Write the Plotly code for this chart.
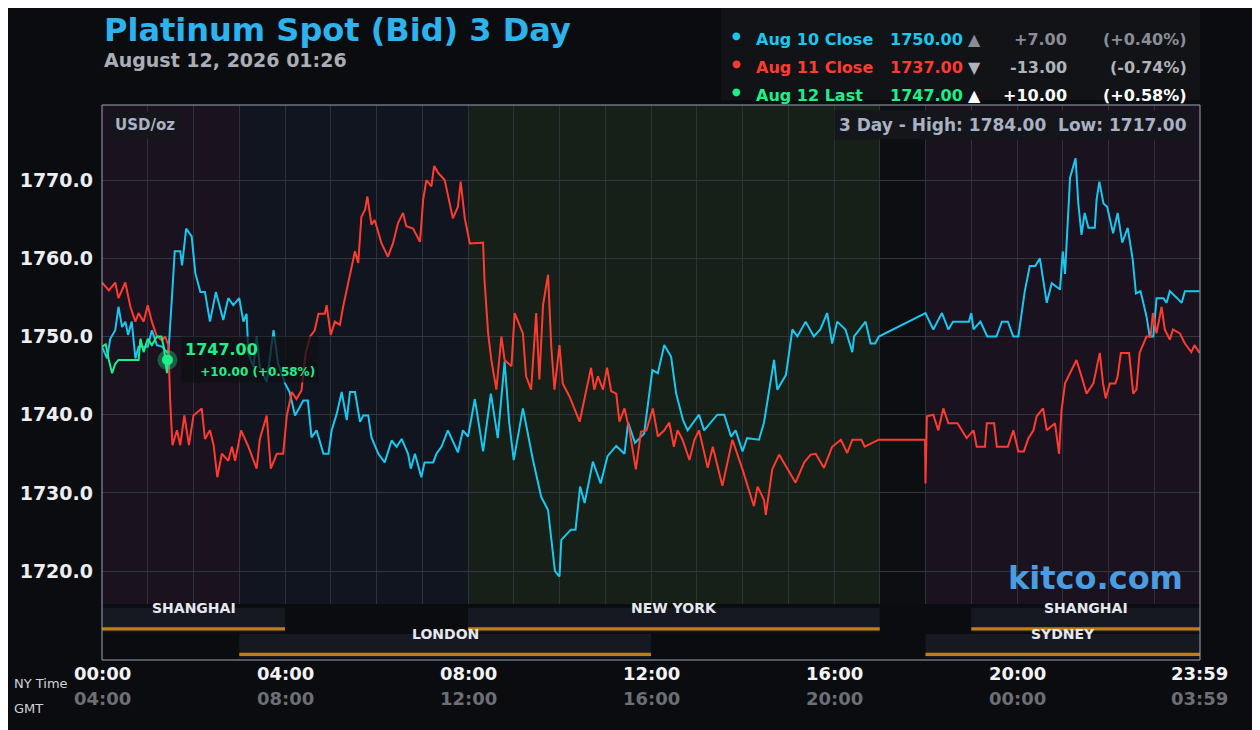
import plotly.graph_objects as go

# ---- data (hours NY time, price) ----
aug10_t = [0,0.11,0.18,0.29,0.36,0.44,0.51,0.57,0.65,0.73,0.8,1.0,1.09,1.2,1.31,1.45,1.53,1.59,1.71,1.75,1.84,1.96,2.04,2.15,2.25,2.36,2.49,2.65,2.76,2.87,3.0,3.09,3.16,3.2,3.31,3.38,3.45,3.6,3.75,3.85,4.0,4.1,4.22,4.4,4.5,4.58,4.69,4.84,4.95,5.02,5.13,5.24,5.35,5.42,5.53,5.64,5.71,5.82,5.89,6.04,6.18,6.33,6.44,6.55,6.69,6.75,6.84,6.98,7.05,7.24,7.31,7.42,7.56,7.64,7.78,7.89,8.0,8.15,8.33,8.5,8.65,8.8,8.9,9.0,9.2,9.42,9.6,9.75,9.9,10.0,10.04,10.25,10.35,10.45,10.55,10.73,10.9,11.05,11.24,11.42,11.5,11.65,11.85,12.03,12.15,12.29,12.44,12.55,12.7,12.8,13.05,13.16,13.45,13.6,13.75,13.85,14.0,14.1,14.36,14.47,14.69,14.76,14.95,15.09,15.2,15.38,15.56,15.7,15.85,15.96,16.07,16.25,16.4,16.44,16.69,16.8,16.9,16.98,18.0,18.17,18.36,18.5,18.6,18.95,19.0,19.05,19.2,19.35,19.55,19.67,19.8,19.92,20.03,20.17,20.28,20.4,20.5,20.65,20.76,20.94,21.0,21.05,21.16,21.28,21.34,21.41,21.48,21.56,21.7,21.74,21.8,21.89,21.97,22.1,22.2,22.3,22.42,22.53,22.6,22.7,22.83,22.9,22.98,23.05,23.2,23.27,23.34,23.5,23.6,23.67,23.99]
aug10_v = [1748.7,1747.2,1749.7,1750.8,1753.8,1751.2,1751.9,1750.2,1751.9,1747.2,1748.7,1748.7,1750.8,1748.9,1748.7,1747.8,1755.1,1760.9,1760.9,1759.1,1763.8,1762.8,1758.1,1755.7,1755.7,1751.9,1755.7,1752.1,1754.9,1754.0,1754.9,1751.9,1752.9,1747.8,1746.1,1750.0,1746.1,1744.2,1750.8,1746.5,1744.0,1742.9,1739.9,1741.8,1741.8,1737.1,1738.0,1735.0,1735.0,1738.0,1740.1,1742.9,1739.3,1742.9,1742.9,1739.1,1739.9,1739.9,1737.1,1735.0,1733.9,1736.7,1735.9,1736.9,1735.0,1733.1,1735.0,1732.0,1733.9,1733.9,1735.0,1735.9,1738.0,1737.0,1735.2,1738.0,1737.2,1742.0,1735.3,1742.7,1737.0,1746.8,1739.0,1734.2,1740.8,1734.2,1729.5,1727.8,1720.0,1719.3,1724.0,1725.3,1725.3,1730.8,1728.7,1734.0,1731.2,1734.7,1736.0,1735.0,1739.0,1736.4,1737.6,1745.7,1745.3,1748.9,1747.4,1742.7,1739.3,1738.0,1740.0,1738.0,1740.0,1740.0,1737.2,1738.0,1735.3,1737.0,1736.8,1739.0,1747.0,1743.2,1745.1,1750.9,1750.0,1751.9,1750.0,1750.9,1753.0,1749.1,1751.9,1750.9,1748.0,1750.0,1751.9,1749.1,1749.1,1750.0,1753.0,1750.9,1753.0,1750.9,1751.9,1751.9,1753.0,1750.9,1751.9,1750.0,1750.0,1751.9,1751.9,1750.0,1750.0,1755.8,1759.0,1759.0,1760.0,1754.3,1756.8,1756.0,1760.9,1758.0,1770.3,1772.8,1767.0,1763.0,1765.8,1763.9,1763.9,1767.5,1769.8,1767.0,1766.6,1763.2,1765.8,1762.0,1763.9,1759.8,1755.5,1755.8,1752.6,1750.0,1750.0,1754.9,1754.9,1754.3,1755.8,1754.9,1754.3,1755.8,1755.8]

aug11_t = [0,0.15,0.29,0.36,0.51,0.62,0.73,0.8,0.91,1.0,1.09,1.2,1.31,1.38,1.45,1.49,1.54,1.64,1.71,1.8,1.9,2.0,2.18,2.25,2.36,2.44,2.52,2.62,2.76,2.84,2.91,3.04,3.2,3.38,3.45,3.6,3.69,3.82,3.96,4.04,4.15,4.25,4.36,4.45,4.55,4.65,4.73,4.87,4.91,5.0,5.09,5.2,5.27,5.38,5.53,5.6,5.67,5.75,5.8,5.89,5.96,6.11,6.25,6.36,6.47,6.58,6.65,6.8,6.95,7.02,7.09,7.2,7.26,7.35,7.49,7.67,7.78,7.84,7.93,8.04,8.2,8.33,8.36,8.44,8.51,8.62,8.73,8.8,8.95,9.02,9.2,9.27,9.38,9.49,9.56,9.64,9.75,9.82,9.89,10.0,10.07,10.22,10.44,10.58,10.69,10.76,10.84,10.95,11.04,11.13,11.24,11.31,11.42,11.53,11.67,11.78,11.9,12.04,12.15,12.29,12.4,12.5,12.58,12.69,12.84,12.95,13.05,13.24,13.35,13.56,13.67,13.78,14.0,14.25,14.33,14.47,14.51,14.65,14.8,14.98,15.16,15.35,15.49,15.6,15.78,15.96,16.15,16.29,16.4,16.6,16.67,16.98,17.99,18.0,18.03,18.17,18.28,18.39,18.5,18.7,18.79,18.9,19.05,19.12,19.3,19.34,19.5,19.56,19.8,19.92,20.03,20.15,20.25,20.36,20.43,20.57,20.65,20.83,20.92,20.97,21.05,21.19,21.3,21.41,21.52,21.67,21.81,21.88,21.94,22.03,22.15,22.2,22.27,22.45,22.54,22.61,22.68,22.83,22.92,22.97,23.05,23.16,23.23,23.34,23.41,23.56,23.67,23.81,23.88,23.99]
aug11_v = [1756.9,1755.9,1756.9,1754.9,1756.9,1753.8,1751.9,1753.0,1751.9,1754.0,1751.9,1750.0,1749.5,1750.0,1748.9,1741.8,1736.1,1738.0,1736.1,1739.9,1736.1,1739.9,1740.8,1736.9,1738.0,1736.1,1732.0,1735.0,1734.1,1735.9,1734.1,1738.0,1735.9,1733.1,1736.9,1739.9,1733.1,1735.0,1735.0,1739.9,1742.9,1742.0,1743.1,1747.8,1750.0,1750.8,1752.9,1752.9,1754.0,1750.2,1751.9,1751.5,1753.8,1756.8,1760.9,1759.4,1765.3,1766.2,1767.9,1764.3,1764.9,1761.9,1760.2,1761.9,1764.5,1765.8,1764.1,1763.8,1762.1,1767.5,1770.0,1769.2,1771.8,1770.9,1770.0,1765.1,1766.6,1769.8,1765.1,1761.9,1762.0,1762.0,1757.3,1750.4,1747.0,1743.2,1750.0,1747.0,1746.2,1753.0,1750.4,1744.9,1743.2,1753.0,1744.5,1754.0,1757.9,1748.7,1743.2,1748.9,1744.0,1742.3,1739.1,1743.0,1746.0,1743.2,1744.9,1743.2,1746.0,1743.0,1742.7,1739.1,1740.8,1738.0,1733.0,1737.8,1738.0,1740.8,1737.2,1738.0,1739.0,1735.9,1738.0,1736.8,1734.2,1736.8,1738.0,1733.2,1735.9,1730.9,1733.9,1736.8,1733.0,1728.3,1730.8,1729.1,1727.2,1733.0,1734.9,1733.0,1731.3,1733.9,1734.9,1735.0,1733.2,1735.9,1736.8,1735.1,1736.8,1736.8,1735.9,1736.8,1736.8,1731.2,1739.8,1740.0,1738.0,1740.8,1738.9,1738.9,1738.0,1737.0,1738.0,1735.9,1735.9,1738.9,1738.9,1735.9,1735.9,1738.0,1735.3,1735.3,1737.0,1738.0,1739.8,1740.8,1738.0,1738.9,1735.0,1740.4,1744.0,1745.7,1747.0,1744.9,1742.7,1744.0,1747.9,1744.0,1742.1,1744.0,1744.0,1744.9,1747.9,1747.9,1742.7,1743.2,1747.9,1750.0,1750.0,1753.0,1750.4,1753.8,1750.9,1749.6,1750.9,1750.4,1749.1,1748.0,1748.9,1747.9]

aug12_t = [0,0.08,0.15,0.22,0.29,0.36,0.8,0.84,0.91,1.0,1.09,1.2,1.3,1.35,1.42,1.43]
aug12_v = [1748.7,1749.0,1747.0,1745.3,1746.5,1747.0,1747.0,1749.7,1748.0,1749.7,1748.9,1750.0,1750.0,1748.7,1745.3,1747.0]

ny_ticks = ["00:00", "04:00", "08:00", "12:00", "16:00", "20:00", "23:59"]
gmt_ticks = ["04:00", "08:00", "12:00", "16:00", "20:00", "00:00", "03:59"]
tick_pos = [0, 4, 8, 12, 16, 20, 23.983]

BLUE, RED, GREEN = "#19c8f0", "#ff3b30", "#1df08a"
BG = "#0b0c10"

fig = go.Figure()
fig.add_trace(go.Scatter(x=aug10_t, y=aug10_v, mode="lines", line=dict(color=BLUE, width=2), hoverinfo="skip"))
fig.add_trace(go.Scatter(x=aug11_t, y=aug11_v, mode="lines", line=dict(color=RED, width=2), hoverinfo="skip"))
fig.add_trace(go.Scatter(x=aug12_t, y=aug12_v, mode="lines", line=dict(color=GREEN, width=2), hoverinfo="skip"))
fig.add_trace(go.Scatter(x=[aug12_t[-1]], y=[aug12_v[-1]], mode="markers",
                         marker=dict(color="rgba(29,240,138,0.35)", size=20), hoverinfo="skip"))
fig.add_trace(go.Scatter(x=[aug12_t[-1]], y=[aug12_v[-1]], mode="markers",
                         marker=dict(color=GREEN, size=11), hoverinfo="skip"))

shapes = []
PD = 0.101  # price domain bottom
bands = [(0, 3, "#1a121f"), (3, 8, "#11151f"), (8, 17, "#161f18"), (17, 18, "#0d0e12"), (18, 24, "#1a121f")]
for a, b, c in bands:
    shapes.append(dict(type="rect", xref="x", yref="paper", x0=a, x1=b, y0=PD, y1=1, fillcolor=c, line_width=0, layer="below"))
sessions = [(0, 4, 0, "SHANGHAI"), (8, 17, 0, "NEW YORK"), (19, 24, 0, "SHANGHAI"),
            (3, 12, 1, "LONDON"), (18, 24, 1, "SYDNEY")]
rows = [(0.05, 0.094), (0.004, 0.047)]
anns = []
for a, b, r, name in sessions:
    y0, y1 = rows[r]
    shapes.append(dict(type="rect", xref="x", yref="paper", x0=a, x1=b, y0=y0, y1=y1, fillcolor="#161922", line_width=0, layer="below"))
    shapes.append(dict(type="rect", xref="x", yref="paper", x0=a, x1=b, y0=y0 + 0.003, y1=y0 + 0.009, fillcolor="#c07f14", line_width=0))
    anns.append(dict(x=(a + b) / 2, y=(y0 + y1) / 2 + 0.004, xref="x", yref="paper", text=name, showarrow=False,
                     font=dict(family="DejaVu Sans", size=14, color="#e6e8ee", weight="bold")))
shapes.append(dict(type="rect", xref="paper", yref="paper", x0=0, x1=1, y0=0, y1=1, line=dict(color="#9aa4b8", width=1)))
shapes.append(dict(type="rect", xref="paper", yref="paper", x0=(720 - 100) / 1100, x1=1, y0=1 + 5 / 555, y1=1 + 97 / 555,
                   fillcolor="#111317", line_width=0))

F = "DejaVu Sans"
def px(xp): return (xp - 100) / 1100
def py(yp): return (660 - yp) / 555

anns += [
    dict(x=px(100), y=py(30), xref="paper", yref="paper", xanchor="left", yanchor="middle", showarrow=False,
         text="Platinum Spot (Bid) 3 Day", font=dict(family=F, size=32, color="#2cb3ee", weight="bold")),
    dict(x=px(100), y=py(60), xref="paper", yref="paper", xanchor="left", yanchor="middle", showarrow=False,
         text="August 12, 2026 01:26", font=dict(family=F, size=19, color="#a9adb6", weight="bold")),
    dict(x=px(108), y=py(125), xref="paper", yref="paper", xanchor="left", yanchor="middle", showarrow=False,
         text="USD/oz", font=dict(family=F, size=15, color="#a9b1c2", weight="bold"), bgcolor="#15161b", borderpad=4),
    dict(x=px(1192), y=py(125), xref="paper", yref="paper", xanchor="right", yanchor="middle", showarrow=False,
         text="3 Day - High: 1784.00  Low: 1717.00", font=dict(family=F, size=17, color="#a9b1c2", weight="bold"),
         bgcolor="#15161b", borderpad=4),
    dict(x=px(1185), y=py(578), xref="paper", yref="paper", xanchor="right", yanchor="middle", showarrow=False,
         text="kitco.com", font=dict(family=F, size=32, color="#4a9de0", weight="bold")),
    dict(x=px(10), y=py(683), xref="paper", yref="paper", xanchor="left", yanchor="middle", showarrow=False,
         text="NY Time", font=dict(family=F, size=13, color="#d0d3da")),
    dict(x=px(10), y=py(708), xref="paper", yref="paper", xanchor="left", yanchor="middle", showarrow=False,
         text="GMT", font=dict(family=F, size=13, color="#d0d3da")),
    dict(x=aug12_t[-1] + 0.3, y=aug12_v[-1], xref="x", yref="y", xanchor="left", yanchor="middle", showarrow=False,
         text="<b>1747.00</b><br><span style='font-size:12px'>    <b>+10.00 (+0.58%)</b></span>",
         align="left", font=dict(family=F, size=16, color=GREEN), bgcolor="rgba(15,16,20,0.75)", borderpad=3),
]
for t, ny, g in zip(tick_pos, ny_ticks, gmt_ticks):
    anns.append(dict(x=t, y=py(686), xref="x", yref="paper", showarrow=False, text=ny,
                     font=dict(family=F, size=18, color="#f2f3f5", weight="bold")))
    anns.append(dict(x=t, y=py(711), xref="x", yref="paper", showarrow=False, text=g,
                     font=dict(family=F, size=18, color="#6c6f76", weight="bold")))

leg = [("Aug 10 Close", "1750.00", "▲", "+7.00", "(+0.40%)", BLUE, "#8a8d95"),
       ("Aug 11 Close", "1737.00", "▼", "-13.00", "(-0.74%)", RED, "#b0b3ba"),
       ("Aug 12 Last", "1747.00", "▲", "+10.00", "(+0.58%)", GREEN, "#ffffff")]
for i, (lab, val, arr, ch, pc, col, ccol) in enumerate(leg):
    yy = py(28 + i * 28)
    anns += [
        dict(x=px(736), y=yy, xref="paper", yref="paper", showarrow=False, text="●", font=dict(family=F, size=10, color=col)),
        dict(x=px(753), y=yy, xref="paper", yref="paper", xanchor="left", showarrow=False, text=lab,
             font=dict(family=F, size=16, color=col, weight="bold")),
        dict(x=px(965), y=yy, xref="paper", yref="paper", xanchor="right", showarrow=False, text=val,
             font=dict(family=F, size=16, color=col, weight="bold")),
        dict(x=px(983), y=yy, xref="paper", yref="paper", showarrow=False, text=arr,
             font=dict(family=F, size=16, color=ccol)),
        dict(x=px(1069), y=yy, xref="paper", yref="paper", xanchor="right", showarrow=False, text=ch,
             font=dict(family=F, size=16, color=ccol, weight="bold")),
        dict(x=px(1189), y=yy, xref="paper", yref="paper", xanchor="right", showarrow=False, text=pc,
             font=dict(family=F, size=16, color=ccol, weight="bold")),
    ]

fig.update_layout(
    width=1260, height=730, paper_bgcolor=BG, plot_bgcolor=BG, showlegend=False,
    margin=dict(l=92, r=68, t=97, b=78), shapes=shapes, annotations=anns,
    xaxis=dict(range=[0, 24], showticklabels=False, showgrid=True, gridcolor="#2e313a", gridwidth=1,
               tickvals=list(range(0, 25)), zeroline=False, fixedrange=True),
    yaxis=dict(domain=[PD, 1], range=[1715.8, 1779.6], tickvals=[1720, 1730, 1740, 1750, 1760, 1770],
               tickformat=".1f", gridcolor="#33363f", zeroline=False, ticks="", ticklabelstandoff=8,
               tickfont=dict(family=F, size=19, color="#eceef2", weight="bold")),
)
fig.write_html("out.html")
